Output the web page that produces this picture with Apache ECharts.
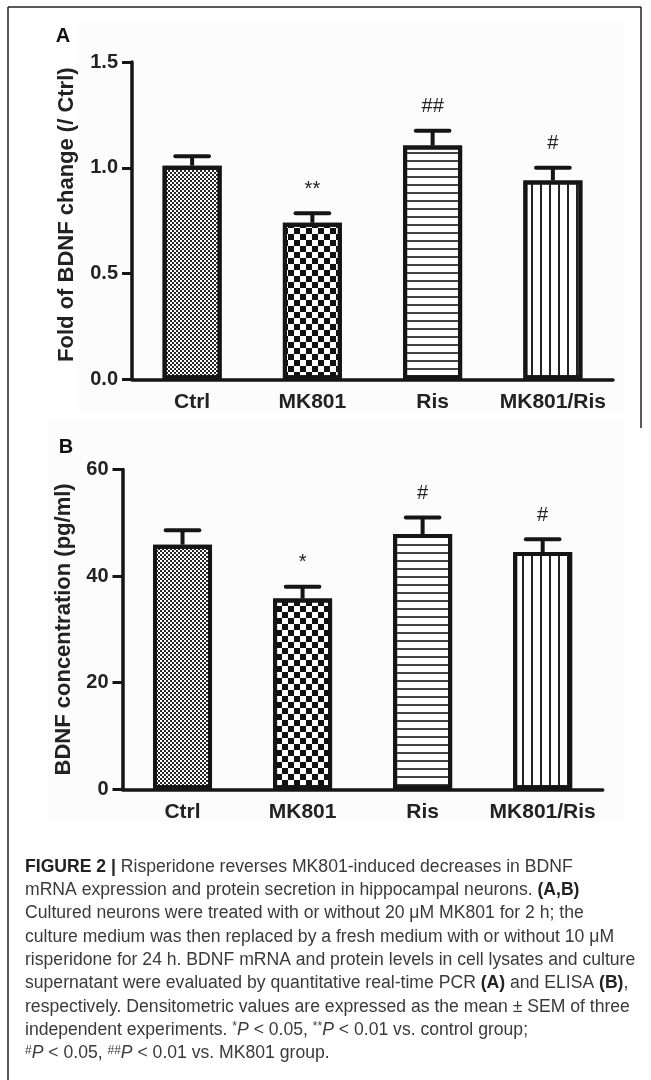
<!DOCTYPE html>
<html>
<head>
<meta charset="utf-8">
<title>Figure 2</title>
<script src="https://cdn.jsdelivr.net/npm/echarts@6/dist/echarts.min.js"></script>
<style>
  html, body { margin: 0; padding: 0; background: #fff; }
  #chart { width: 651px; height: 1080px; }
</style>
</head>
<body>
<div id="chart"></div>
<script>
const categories = ['Ctrl', 'MK801', 'Ris', 'MK801/Ris'];

// A: fold of BDNF change vs Ctrl (real-time PCR)
const foldMean = [1.01, 0.74, 1.105, 0.94];
const foldSem = [0.045, 0.045, 0.07, 0.06];
const foldMarks = ['', '**', '##', '#'];
const foldTicks = ['0.0', '0.5', '1.0', '1.5'];

// B: BDNF concentration pg/ml (ELISA)
const concMean = [45.9, 35.8, 47.9, 44.5];
const concSem = [2.7, 2.2, 3.1, 2.4];
const concMarks = ['', '*', '#', '#'];
const concTicks = ['0', '20', '40', '60'];

const captionLines = [
  '{b|FIGURE 2} {b||} Risperidone reverses MK801-induced decreases in BDNF',
  'mRNA expression and protein secretion in hippocampal neurons. {b|(A,B)}',
  'Cultured neurons were treated with or without 20 \u03bcM MK801 for 2 h; the',
  'culture medium was then replaced by a fresh medium with or without 10 \u03bcM',
  'risperidone for 24 h. BDNF mRNA and protein levels in cell lysates and culture',
  'supernatant were evaluated by quantitative real-time PCR {b|(A)} and ELISA {b|(B)},',
  'respectively. Densitometric values are expressed as the mean \u00b1 SEM of three',
  'independent experiments. {sup|*}{i|P} < 0.05, {sup|**}{i|P} < 0.01 vs. control group;',
  '{sup|#}{i|P} < 0.05, {sup|##}{i|P} < 0.01 vs. MK801 group.'
];

const FONT = 'Liberation Sans, Arial, sans-serif';
const INK = '#151515';

// hatch / dot fills of the four groups
const fills = [
  { symbol: 'rect', symbolSize: 0.9, color: '#111', dashArrayX: [[2, 2], [0, 2, 2, 0]], dashArrayY: [2, 0] },
  { symbol: 'rect', symbolSize: 1, color: '#111', dashArrayX: [[5.5, 5.5], [0, 5.5, 5.5, 0]], dashArrayY: [5.5, 0] },
  { symbol: 'rect', symbolSize: 1, color: '#444', dashArrayX: [1, 0], dashArrayY: [1.4, 5.2] },
  { symbol: 'rect', symbolSize: 1, color: '#222', dashArrayX: [1.3, 7], dashArrayY: [1, 0] }
];

function barData(means) {
  return means.map((v, i) => ({ value: v, itemStyle: { decal: fills[i] } }));
}

function errData(means, sems) {
  return means.map((v, i) => [i, v, sems[i]]);
}

function makeErrRender(marks) {
  return function (params, api) {
    const i = api.value(0);
    const base = api.coord([i, api.value(1)]);
    const top = api.coord([i, api.value(1) + api.value(2)]);
    const half = api.size([1, 0])[0] * 0.14;
    return {
      type: 'group',
      children: [
        { type: 'line', shape: { x1: base[0], y1: base[1], x2: top[0], y2: top[1] },
          style: { stroke: INK, lineWidth: 4 } },
        { type: 'line', shape: { x1: top[0] - half, y1: top[1], x2: top[0] + half, y2: top[1] },
          style: { stroke: INK, lineWidth: 4, lineCap: 'round' } },
        { type: 'text', x: top[0], y: top[1] - 24,
          style: { text: marks[i], fontSize: 20, fontFamily: FONT, fill: '#222',
                   align: 'center', verticalAlign: 'middle' } }
      ]
    };
  };
}

function xAxisFor(gridIndex) {
  return {
    type: 'category', gridIndex: gridIndex, data: categories,
    axisLine: { lineStyle: { color: INK, width: 3.5 } },
    axisTick: { alignWithLabel: true, length: 10, lineStyle: { color: INK, width: 3 } },
    axisLabel: { interval: 0, hideOverlap: false, fontSize: 21, fontWeight: 'bold', color: '#222',
                 fontFamily: FONT, margin: 12 },
    splitLine: { show: false }
  };
}

function yAxisFor(gridIndex, max, step, ticks, name, gap, shift) {
  return {
    type: 'value', gridIndex: gridIndex, min: 0, max: max, interval: step,
    name: name, nameLocation: 'middle', nameRotate: 90, nameGap: gap,
    nameTextStyle: { fontSize: 22, fontWeight: 'bold', color: '#222', fontFamily: FONT,
                     padding: [0, 0, 0, shift] },
    axisLine: { show: true, lineStyle: { color: INK, width: 3.5 } },
    axisTick: { show: true, length: 10, lineStyle: { color: INK, width: 3 } },
    axisLabel: { fontSize: 20, fontWeight: 'bold', color: '#222', fontFamily: FONT, margin: 14,
                 formatter: v => ticks[Math.round(v / step)] },
    splitLine: { show: false }
  };
}

const captionRich = {
  b: { fontSize: 17.6, fontFamily: FONT, fontWeight: 'bold', fill: '#222' },
  i: { fontSize: 17.6, fontFamily: FONT, fontStyle: 'italic', fill: '#3a3a3a' },
  sup: { fontSize: 12, fontFamily: FONT, fill: '#3a3a3a', verticalAlign: 'top' }
};

const graphics = [
  { type: 'rect', z: -1, shape: { x: 78, y: 23, width: 546, height: 389 }, style: { fill: '#fcfcfc' } },
  { type: 'rect', z: -1, shape: { x: 47, y: 418, width: 578, height: 404 }, style: { fill: '#fcfcfc' } },
  { type: 'line', shape: { x1: 8, y1: 7, x2: 641, y2: 7 }, style: { stroke: '#222', lineWidth: 1.5 } },
  { type: 'line', shape: { x1: 8, y1: 7, x2: 8, y2: 1080 }, style: { stroke: '#222', lineWidth: 1.5 } },
  { type: 'line', shape: { x1: 641, y1: 7, x2: 641, y2: 428 }, style: { stroke: '#222', lineWidth: 1.5 } },
  { type: 'text', x: 63, y: 36, style: { text: 'A', fontSize: 20, fontWeight: 'bold', fontFamily: FONT,
    fill: '#111', align: 'center', verticalAlign: 'middle' } },
  { type: 'text', x: 66, y: 447, style: { text: 'B', fontSize: 20, fontWeight: 'bold', fontFamily: FONT,
    fill: '#111', align: 'center', verticalAlign: 'middle' } }
];
captionLines.forEach((line, k) => {
  graphics.push({
    type: 'text', x: 25, y: 867 + k * 23.3,
    style: { text: line, rich: captionRich, fontSize: 17.6, fontFamily: FONT, fill: '#3a3a3a',
             align: 'left', verticalAlign: 'middle' }
  });
});

const chart = echarts.init(document.getElementById('chart'), null, { renderer: 'canvas' });

chart.setOption({
  animation: false,
  backgroundColor: '#fff',
  textStyle: { fontFamily: FONT },
  grid: [
    { left: 132, right: 38, top: 62, bottom: 700.7 },
    { left: 122.5, right: 48.3, top: 469.5, bottom: 290.7 }
  ],
  xAxis: [xAxisFor(0), xAxisFor(1)],
  yAxis: [
    yAxisFor(0, 1.5, 0.5, foldTicks, 'Fold of BDNF change (/ Ctrl)', 54, 12),
    yAxisFor(1, 60, 20, concTicks, 'BDNF concentration (pg/ml)', 47, 0)
  ],
  series: [
    { type: 'bar', xAxisIndex: 0, yAxisIndex: 0, barWidth: 59, data: barData(foldMean),
      itemStyle: { color: '#fff', borderColor: INK, borderWidth: 4 }, emphasis: { disabled: true } },
    { type: 'custom', xAxisIndex: 0, yAxisIndex: 0, z: 3, data: errData(foldMean, foldSem),
      encode: { x: 0, y: 1 }, renderItem: makeErrRender(foldMarks) },
    { type: 'bar', xAxisIndex: 1, yAxisIndex: 1, barWidth: 59, data: barData(concMean),
      itemStyle: { color: '#fff', borderColor: INK, borderWidth: 4 }, emphasis: { disabled: true } },
    { type: 'custom', xAxisIndex: 1, yAxisIndex: 1, z: 3, data: errData(concMean, concSem),
      encode: { x: 0, y: 1 }, renderItem: makeErrRender(concMarks) }
  ],
  graphic: graphics
});
</script>
</body>
</html>
